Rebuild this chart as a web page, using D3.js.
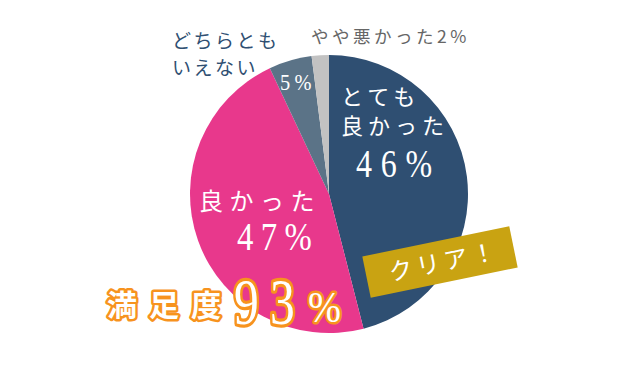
<!DOCTYPE html>
<html>
<head>
<meta charset="utf-8">
<script src="https://cdn.jsdelivr.net/npm/d3@7/dist/d3.min.js"></script>
<style>
  html, body { margin: 0; padding: 0; background: #fff; }
  svg { display: block; }
  .jp { font-family: "Noto Sans CJK JP", "Noto Sans", sans-serif; }
  .num { font-family: "Liberation Serif", "DejaVu Serif", serif; }
</style>
</head>
<body>
<svg width="640" height="372"></svg>
<script>
// Survey answers, clockwise from 12 o'clock
const categories = ['とても良かった', '良かった', 'どちらともいえない', 'やや悪かった'];
const values = [46, 47, 5, 2];
const colors = ['#2f4f72', '#e8388c', '#5b7387', '#c2c2c2'];
const total = 93; // とても良かった + 良かった

const svg = d3.select('svg');
const cx = 329, cy = 194, r = 139;

const data = categories.map((c, i) => ({name: c, value: values[i], color: colors[i]}));

const pie = d3.pie().sort(null).value(d => d.value);
const arc = d3.arc().innerRadius(0).outerRadius(r);

const g = svg.append('g').attr('transform', `translate(${cx},${cy})`);
g.selectAll('path')
  .data(pie(data)).enter()
  .append('path')
  .attr('d', arc)
  .attr('fill', d => d.data.color);

// helper for spaced text lines
function label (x, y, txt, size, fill, cls, spacing, anchor) {
  return svg.append('text')
    .attr('class', cls)
    .attr('x', x).attr('y', y)
    .attr('font-size', size)
    .attr('fill', fill)
    .attr('letter-spacing', spacing || 0)
    .attr('text-anchor', anchor || 'start')
    .text(txt);
}

// narrow serif numbers, squeezed horizontally
function numText (parent, x, y, txt, size, sx, spacing) {
  return parent.append('text')
    .attr('class', 'num')
    .attr('transform', `translate(${x},${y}) scale(${sx},1)`)
    .attr('font-size', size)
    .attr('letter-spacing', spacing)
    .attr('fill', '#fff')
    .text(txt);
}

// outside labels
label(172, 48, 'どちらとも', 19, '#2f4f72', 'jp', 2.5);
label(172, 75, 'いえない', 19, '#2f4f72', 'jp', 2.5);
label(311, 43, 'やや悪かった' + values[3] + '%', 17.5, '#666', 'jp', 3.5);

// 5%
numText(svg, 280, 90, values[2] + '%', 24, 0.85, 5);

// とても良かった 46%
label(341, 105, 'とても', 22, '#fff', 'jp', 5);
label(341, 134, '良かった', 22, '#fff', 'jp', 5);
numText(svg, 356, 177, values[0] + '%', 40, 0.8, 11);

// 良かった 47%
label(199, 210, '良かった', 24, '#fff', 'jp', 6.5);
numText(svg, 237, 250, values[1] + '%', 40, 0.82, 9);

// クリア！ banner
const banner = svg.append('g').attr('transform', 'translate(440,262) rotate(-11.6)');
banner.append('rect')
  .attr('x', -75).attr('y', -21)
  .attr('width', 150).attr('height', 42)
  .attr('fill', '#c9a312');
banner.append('text')
  .attr('class', 'jp')
  .attr('x', 4).attr('y', 9)
  .attr('text-anchor', 'middle')
  .attr('font-size', 24)
  .attr('letter-spacing', 4)
  .attr('fill', '#fff')
  .text('クリア！');

// 満足度93%
const sat = svg.append('g');
function outlined (el, w) {
  el.attr('fill', '#fff')
    .attr('stroke', '#f7931e')
    .attr('stroke-width', w)
    .attr('stroke-linejoin', 'round')
    .attr('paint-order', 'stroke');
  return el;
}
outlined(sat.append('text').attr('class', 'jp')
  .attr('x', 107).attr('y', 316)
  .attr('font-size', 30)
  .attr('font-weight', 'bold')
  .attr('letter-spacing', 12)
  .text('満足度'), 5);
outlined(numText(sat, 234, 324, String(total), 66, 0.75, 15), 6.5);
outlined(numText(sat, 308, 322, '%', 44, 0.9, 0), 5);
</script>
</body>
</html>
